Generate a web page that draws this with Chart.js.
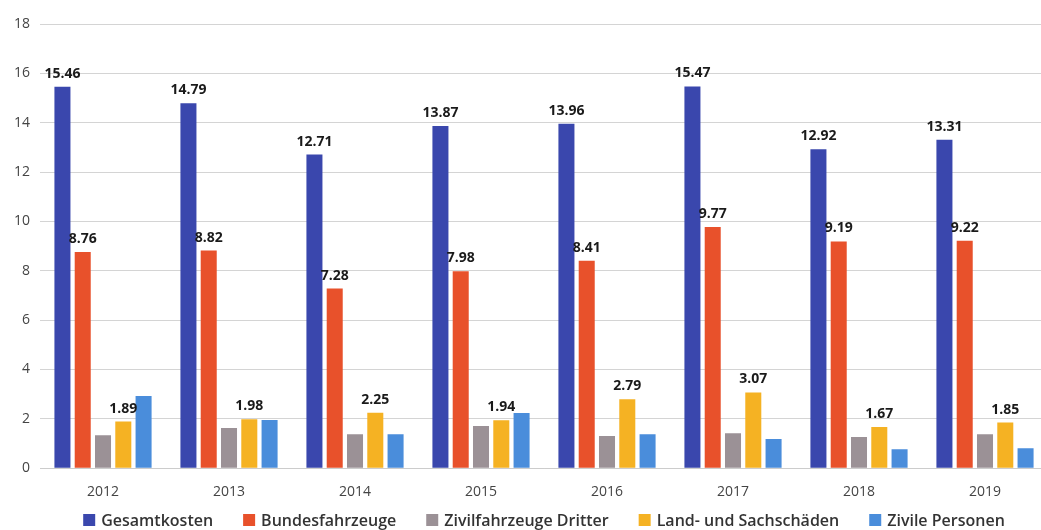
<!DOCTYPE html>
<html>
<head>
<meta charset="utf-8">
<script src="https://cdn.jsdelivr.net/npm/chart.js@4"></script>
<style>
  html, body { margin: 0; padding: 0; background: #ffffff; overflow: hidden; }
  #wrap { width: 1050px; height: 530px; position: relative; }
</style>
</head>
<body>
<div id="wrap"><canvas id="kostenChart"></canvas></div>
<script>
// ─── DATA ───────────────────────────────────────────────────────────────
var years = ['2012', '2013', '2014', '2015', '2016', '2017', '2018', '2019'];
var seriesNames = ['Gesamtkosten', 'Bundesfahrzeuge', 'Zivilfahrzeuge Dritter', 'Land- und Sachschäden', 'Zivile Personen'];
var gesamtkosten = [15.46, 14.79, 12.71, 13.87, 13.96, 15.47, 12.92, 13.31];
var bundesfahrzeuge = [8.76, 8.82, 7.28, 7.98, 8.41, 9.77, 9.19, 9.22];
var zivilfahrzeugeDritter = [1.34, 1.63, 1.38, 1.71, 1.30, 1.42, 1.26, 1.38];
var landSachschaeden = [1.89, 1.98, 2.25, 1.94, 2.79, 3.07, 1.67, 1.85];
var zivilePersonen = [2.93, 1.95, 1.38, 2.24, 1.38, 1.18, 0.77, 0.81];
var yTicks = [0, 2, 4, 6, 8, 10, 12, 14, 16, 18];

var seriesValues = [gesamtkosten, bundesfahrzeuge, zivilfahrzeugeDritter, landSachschaeden, zivilePersonen];
var seriesColors = ['#3a47ad', '#e8512b', '#9b9196', '#f5b223', '#4a8ddb'];
var labelledSeries = [0, 1, 3];
var FONT = '"Open Sans", sans-serif';

// value labels above selected bars
var valueLabels = {
    id: 'valueLabels',
    afterDatasetsDraw: function (chart) {
        var ctx = chart.ctx;
        ctx.save();
        ctx.font = 'bold 14px ' + FONT;
        ctx.fillStyle = '#1a1a1a';
        ctx.textAlign = 'center';
        ctx.textBaseline = 'bottom';
        labelledSeries.forEach(function (di) {
            chart.getDatasetMeta(di).data.forEach(function (bar, i) {
                ctx.fillText(seriesValues[di][i].toFixed(2), bar.x, bar.y - 6);
            });
        });
        ctx.restore();
    }
};

// legend row at the bottom, centred a bit right like the original
var bottomLegend = {
    id: 'bottomLegend',
    afterDraw: function (chart) {
        var ctx = chart.ctx;
        var box = 12, gapBox = 6, gapItem = 30, cy = 520, cx = 544;
        ctx.save();
        ctx.font = '600 16px ' + FONT;
        ctx.textBaseline = 'middle';
        var widths = seriesNames.map(function (n) { return box + gapBox + ctx.measureText(n).width; });
        var total = widths.reduce(function (a, b) { return a + b; }, 0) + gapItem * (widths.length - 1);
        var x = cx - total / 2;
        seriesNames.forEach(function (n, i) {
            ctx.fillStyle = seriesColors[i];
            ctx.fillRect(x, cy - box / 2, box, box);
            ctx.fillStyle = '#333333';
            ctx.fillText(n, x + box + gapBox, cy + 1);
            x += widths[i] + gapItem;
        });
        ctx.restore();
    }
};

new Chart(document.getElementById('kostenChart').getContext('2d'), {
    type: 'bar',
    data: {
        labels: years,
        datasets: seriesNames.map(function (name, i) {
            return {
                label: name,
                data: seriesValues[i],
                backgroundColor: seriesColors[i],
                borderWidth: 0,
                categoryPercentage: 0.805,
                barPercentage: 0.79
            };
        })
    },
    options: {
        responsive: true, maintainAspectRatio: false, animation: false,
        layout: { padding: { top: 24, right: 2, left: 4, bottom: 23 } },
        plugins: {
            legend: { display: false },
            tooltip: { enabled: false }
        },
        scales: {
            x: {
                grid: { display: false },
                border: { display: true, color: '#cccccc' },
                ticks: { color: '#444444', padding: 7, font: { size: 14, family: FONT } }
            },
            y: {
                min: 0, max: 18,
                afterBuildTicks: function (axis) {
                    axis.ticks = yTicks.map(function (v) { return { value: v }; });
                },
                grid: { color: '#d4d4d4', drawTicks: false },
                border: { display: false },
                ticks: { color: '#444444', padding: 10, font: { size: 14, family: FONT } }
            }
        }
    },
    plugins: [valueLabels, bottomLegend]
});
</script>
</body>
</html>
